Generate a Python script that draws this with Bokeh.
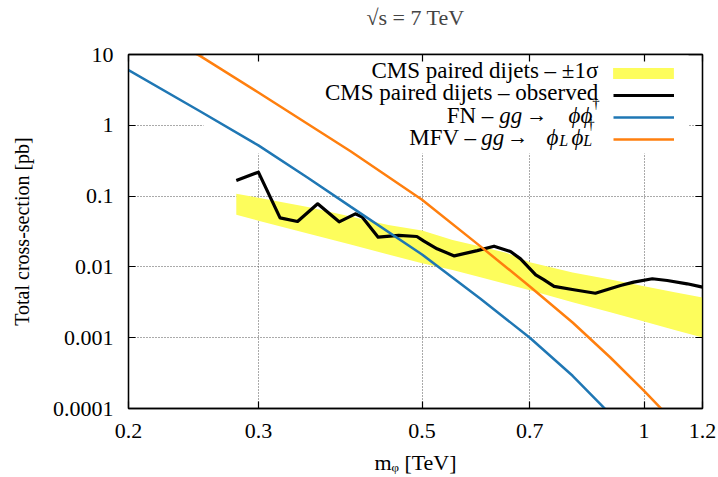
from bokeh.plotting import figure
from bokeh.models import (FixedTicker, LogAxis, NumeralTickFormatter, Label,
                          BoxAnnotation, Legend, LegendItem, CustomJSTickFormatter)
from bokeh.embed import file_html
from bokeh.resources import INLINE

# ---------------- data ----------------
x_ticks = [0.2, 0.3, 0.5, 0.7, 1.0, 1.2]
y_ticks = [0.0001, 0.001, 0.01, 0.1, 1.0, 10.0]

mass_band = [0.28, 0.30, 0.35, 0.40, 0.45, 0.50, 0.55, 0.60, 0.65, 0.70,
             0.80, 0.90, 1.00, 1.10, 1.20]
band_upper = [0.108, 0.0949, 0.0701, 0.0515, 0.0392, 0.0328, 0.0240, 0.0194,
              0.0159, 0.0116, 0.00834, 0.00664, 0.00533, 0.00440, 0.00370]
band_lower = [0.0544, 0.0450, 0.0297, 0.0207, 0.0150, 0.0113, 0.00904, 0.00713,
              0.00573, 0.00467, 0.00318, 0.00229, 0.00169, 0.00128, 0.00101]

mass_obs = [0.28, 0.30, 0.321, 0.339, 0.361, 0.386, 0.406, 0.415, 0.436, 0.465,
            0.492, 0.503, 0.524, 0.553, 0.594, 0.626, 0.659, 0.680, 0.713, 0.731,
            0.755, 0.803, 0.859, 0.929, 0.968, 1.026, 1.075, 1.144, 1.20]
xsec_obs = [0.166, 0.218, 0.0493, 0.0438, 0.0778, 0.0433, 0.0562, 0.0504, 0.0263,
            0.0278, 0.0269, 0.0231, 0.0180, 0.0143, 0.0170, 0.0196, 0.0165, 0.0130,
            0.0077, 0.0066, 0.0053, 0.00475, 0.00425, 0.00546, 0.0061, 0.0068,
            0.00643, 0.00577, 0.00517]

mass_fn = [0.2, 0.25, 0.3, 0.35, 0.4, 0.5, 0.6, 0.7, 0.8, 0.9]
xsec_fn = [6.0, 1.58, 0.52, 0.182, 0.071, 0.0150, 0.00355, 0.00100, 0.00029,
           0.000083]

mass_mfv = [0.2, 0.25, 0.3, 0.4, 0.5, 0.6, 0.7, 0.8, 0.9, 1.0, 1.1]
xsec_mfv = [32.0, 9.55, 2.9, 0.43, 0.089, 0.0195, 0.0053, 0.00164, 0.000525,
            0.000178, 0.000063]

title_text = "√s = 7 TeV"
x_label = "mᵩ [TeV]"
y_label = "Total cross-section [pb]"

# ---------------- styling ----------------
FONT = "Liberation Serif"
BLUE = "#1f77b4"
ORANGE = "#ff7f0e"
YELLOW = "#fdfd5c"
X_MIN, X_MAX = 0.2, 1.2
Y_MIN, Y_MAX = 0.0001, 10.0

p = figure(frame_width=574, frame_height=354,
           x_axis_type="log", y_axis_type="log",
           x_range=(X_MIN, X_MAX), y_range=(Y_MIN, Y_MAX),
           output_backend="svg", toolbar_location=None,
           min_border_left=128, min_border_right=16,
           min_border_top=54, min_border_bottom=69)

p.background_fill_color = "white"
p.border_fill_color = "white"
p.outline_line_color = "black"
p.outline_line_width = 1.3

# title: a trailing empty line lifts it away from the frame
p.title.text = title_text + "\n"
p.title.align = "center"
p.title.vertical_align = "bottom"
p.title.text_font = FONT
p.title.text_font_size = "22px"
p.title.text_font_style = "normal"
p.title.text_line_height = 1.0
p.title.standoff = 0

xt = FixedTicker(ticks=x_ticks, minor_ticks=[])
yt = FixedTicker(ticks=y_ticks, minor_ticks=[])
fmt = NumeralTickFormatter(format="0.[0000]")

for ax, tk in ((p.xaxis[0], xt), (p.yaxis[0], yt)):
    ax.ticker = tk
    ax.formatter = fmt
    ax.major_tick_in = 7
    ax.major_tick_out = 0
    ax.minor_tick_in = 0
    ax.minor_tick_out = 0
    ax.axis_line_color = "black"
    ax.axis_line_width = 1.3
    ax.major_tick_line_width = 1.2
    ax.major_label_text_font = FONT
    ax.major_label_text_font_size = "22px"
    ax.major_label_text_color = "black"
    ax.axis_label_text_font = FONT
    ax.axis_label_text_font_style = "normal"
    ax.axis_label_text_color = "black"

p.xaxis[0].axis_label = x_label
p.xaxis[0].axis_label_text_font_size = "22px"
p.xaxis[0].major_label_standoff = 15
p.xaxis[0].axis_label_standoff = 9
p.yaxis[0].axis_label = y_label
p.yaxis[0].axis_label_text_font_size = "20px"
p.yaxis[0].major_label_standoff = 15
p.yaxis[0].axis_label_standoff = 17

for g, tk in ((p.xgrid[0], xt), (p.ygrid[0], yt)):
    g.ticker = tk
    g.grid_line_color = "#555555"
    g.grid_line_dash = "1 2"
    g.grid_line_width = 1
    g.level = "image"

# mirrored axes (ticks only, no labels)
blank = CustomJSTickFormatter(code="return ''")
top_ax = LogAxis(ticker=xt, formatter=blank, major_tick_in=7,
                 major_tick_out=0, minor_tick_in=0, minor_tick_out=0,
                 major_label_standoff=0, major_label_text_font_size="1px",
                 axis_line_color="black", axis_line_width=1.3,
                 major_tick_line_width=1.2)
right_ax = LogAxis(ticker=yt, formatter=blank, major_tick_in=7,
                   major_tick_out=0, minor_tick_in=0, minor_tick_out=0,
                   major_label_standoff=0, major_label_text_font_size="1px",
                   axis_line_color="black", axis_line_width=1.3,
                   major_tick_line_width=1.2)
p.add_layout(top_ax, "above")
p.add_layout(right_ax, "right")

# opaque key area hiding the grid (as in the original)
p.add_layout(BoxAnnotation(left=0.2528, right=1.149, bottom=0.40,
                           fill_color="white", fill_alpha=1.0, line_alpha=0,
                           level="underlay"))

# ---------------- data renderers ----------------
r_band = p.varea(x=mass_band, y1=band_lower, y2=band_upper, fill_color=YELLOW)
r_obs = p.line(mass_obs, xsec_obs, line_color="black", line_width=3.2,
               line_join="round")
r_fn = p.line(mass_fn, xsec_fn, line_color=BLUE, line_width=2.5)
r_mfv = p.line(mass_mfv, xsec_mfv, line_color=ORANGE, line_width=2.5)

# key samples (glyphs on the right, texts as labels to their left)
common = dict(padding=0, margin=0, label_width=0, label_height=12,
              label_standoff=0, label_text_font_size="1px",
              background_fill_alpha=0, border_line_alpha=0)
band_key = Legend(items=[LegendItem(label="", renderers=[r_band])],
                  location=(477, 328), glyph_width=76, glyph_height=14, **common)
line_key = Legend(items=[LegendItem(label="", renderers=[r]) for r in
                         (r_obs, r_fn, r_mfv)],
                  location=(485, 263), glyph_width=61, glyph_height=12,
                  spacing=10, **common)
p.add_layout(band_key)
p.add_layout(line_key)

KEY_X = 0.867   # data x of the right end of the key texts
FS = "23px"
pieces = [
    # text, x_offset, y_offset, align, size, style
    ("CMS paired dijets – ±1σ", 0, -15.5, "right", FS, "normal"),
    ("CMS paired dijets – observed", 0, -37.5, "right", FS, "normal"),
    ("FN –", -105, -60.5, "right", FS, "normal"),
    ("gg", -76, -60.5, "right", FS, "italic"),
    ("→", -51, -60.5, "right", "21px", "normal"),
    ("ϕϕ", -6, -60.5, "right", FS, "italic"),
    ("†", -6, -48.5, "left", "15px", "normal"),
    ("MFV –", -122, -82.5, "right", FS, "normal"),
    ("gg", -94, -82.5, "right", FS, "italic"),
    ("→", -70, -82.5, "right", "21px", "normal"),
    ("ϕ", -40, -82.5, "right", FS, "italic"),
    ("L", -39, -85.5, "left", "16px", "italic"),
    ("ϕ", -15, -82.5, "right", FS, "italic"),
    ("†", -11, -69, "left", "15px", "normal"),
    ("L", -15, -85.5, "left", "16px", "italic"),
]
for txt, xo, yo, al, sz, st in pieces:
    p.add_layout(Label(x=KEY_X, y=Y_MAX, text=txt, x_offset=xo, y_offset=yo,
                       text_align=al, text_baseline="alphabetic",
                       text_font=FONT, text_font_size=sz, text_font_style=st,
                       text_color="black"))

open("out.html", "w").write(file_html(p, INLINE))
